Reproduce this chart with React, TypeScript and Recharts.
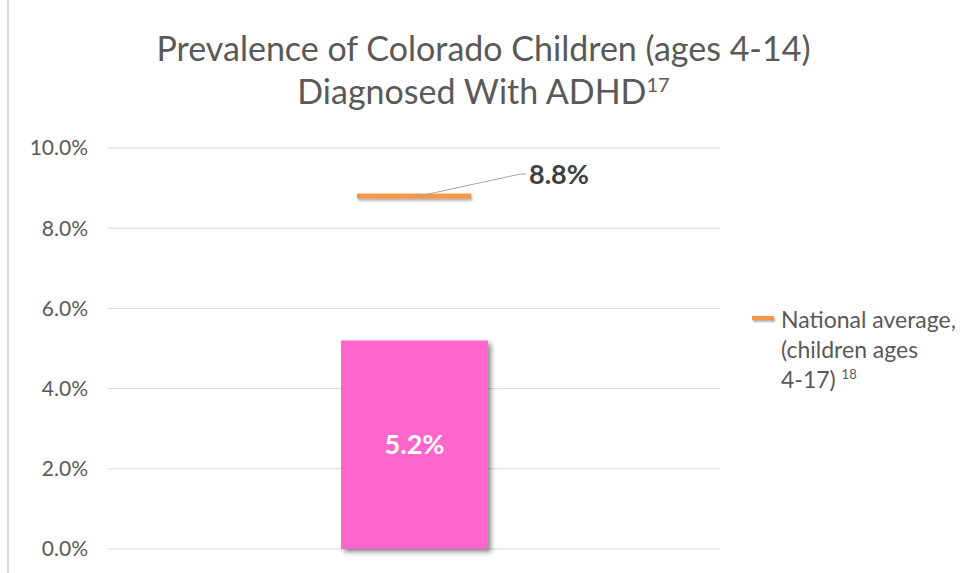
import React from 'react';
import {
  ComposedChart,
  Bar,
  Scatter,
  XAxis,
  YAxis,
  CartesianGrid,
  LabelList,
} from 'recharts';

const categories = ['Colorado'];
const coloradoValues = [5.2];
const nationalValues = [8.8];
const yTicks = [0, 2, 4, 6, 8, 10];

const FONT = 'Lato, "Open Sans", sans-serif';
const GRAY = '#595959';

const data = categories.map((name, i) => ({
  name,
  colorado: coloradoValues[i],
  national: nationalValues[i],
}));

// pink bar with a soft drop shadow like the original
function ShadowBar(props: any) {
  const { x, y, width, height, fill } = props;
  return (
    <g>
      <defs>
        <filter id="barShadow" x="-20%" y="-20%" width="150%" height="150%">
          <feDropShadow dx="3" dy="3" stdDeviation="2.5" floodColor="#000" floodOpacity="0.45" />
        </filter>
      </defs>
      <rect x={x} y={y} width={width} height={height} fill={fill} filter="url(#barShadow)" />
    </g>
  );
}

// national average drawn as a short horizontal dash
function DashMark(props: any) {
  const { cx, cy } = props;
  const half = 57;
  return (
    <g>
      <defs>
        <filter id="dashShadow" x="-20%" y="-100%" width="140%" height="400%">
          <feDropShadow dx="1" dy="2" stdDeviation="1.5" floodColor="#000" floodOpacity="0.35" />
        </filter>
      </defs>
      <rect x={cx - half} y={cy - 2.5} width={half * 2} height={5} fill="#f79646" filter="url(#dashShadow)" />
      <polyline
        points={`${cx},${cy + 1} ${cx + 106},${cy - 22} ${cx + 112},${cy - 22}`}
        fill="none"
        stroke="#a6a6a6"
        strokeWidth={1}
      />
      <text x={cx + 115} y={cy - 12} fontSize={27} fontWeight={700} fill="#404040" fontFamily={FONT}>
        {`${props.payload.national.toFixed(1)}%`}
      </text>
    </g>
  );
}

export default function App() {
  return (
    <div style={{ position: 'absolute', left: 0, top: 0, width: 967, height: 573, background: '#fff', fontFamily: FONT }}>
      <div style={{ position: 'absolute', left: 7, top: 0, width: 2, height: 573, background: '#d9d9d9' }} />
      <div
        style={{
          position: 'absolute',
          left: 0,
          top: 26,
          width: 967,
          textAlign: 'center',
          color: GRAY,
          fontSize: 34,
          lineHeight: '43px',
        }}
      >
        Prevalence of Colorado Children (ages 4-14)
        <br />
        Diagnosed With ADHD<sup style={{ fontSize: 20, verticalAlign: 'top', lineHeight: '30px' }}>17</sup>
      </div>
      <ComposedChart
        width={967}
        height={573}
        data={data}
        margin={{ top: 148, right: 247, bottom: 24, left: 10 }}
      >
        <CartesianGrid vertical={false} stroke="#d9d9d9" />
        <XAxis dataKey="name" hide />
        <YAxis
          domain={[0, 10]}
          ticks={yTicks}
          width={98}
          axisLine={false}
          tickLine={false}
          tickMargin={14}
          tick={{ fill: GRAY, fontSize: 21, fontFamily: FONT }}
          tickFormatter={(v: number) => `${v.toFixed(1)}%`}
        />
        <Bar dataKey="colorado" fill="#ff66cc" barSize={147} shape={ShadowBar} isAnimationActive={false}>
          <LabelList
            dataKey="colorado"
            position="center"
            formatter={(v: any) => `${Number(v).toFixed(1)}%`}
            style={{ fill: '#fff', fontSize: 27, fontWeight: 700, fontFamily: FONT }}
          />
        </Bar>
        <Scatter dataKey="national" shape={DashMark} isAnimationActive={false} />
      </ComposedChart>
      <div style={{ position: 'absolute', left: 752, top: 316, width: 22, height: 4, background: '#f79646', boxShadow: '1px 2px 2px rgba(0,0,0,0.3)' }} />
      <div
        style={{
          position: 'absolute',
          left: 781,
          top: 304,
          width: 190,
          color: GRAY,
          fontSize: 23,
          lineHeight: '30px',
        }}
      >
        National average,
        <br />
        (children ages
        <br />
        4-17) <sup style={{ fontSize: 13, verticalAlign: 'top', lineHeight: '20px' }}>18</sup>
      </div>
    </div>
  );
}
